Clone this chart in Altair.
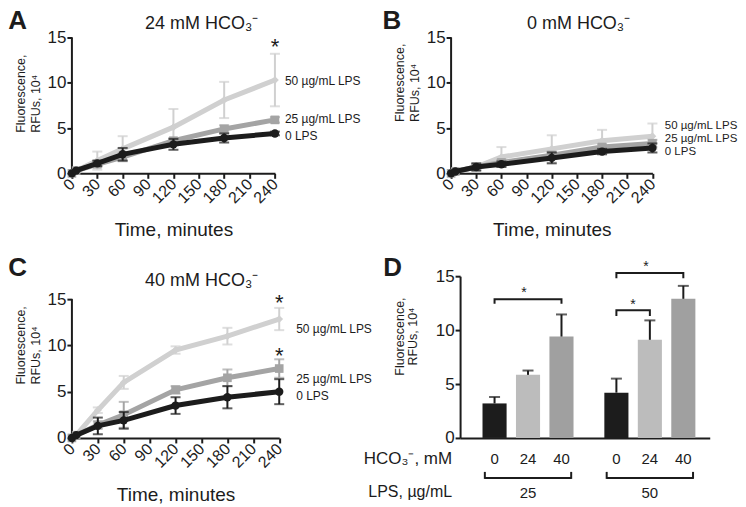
import altair as alt
import pandas as pd

FONT = "Liberation Sans"
BLACK = "#1c1c1c"
MID = "#a4a4a4"
LIGHT = "#d0d0d0"

# ---------------- data ----------------
TIMES = [0, 5, 30, 60, 120, 180, 240]
TIME_TICKS = [0, 30, 60, 90, 120, 150, 180, 210, 240]
Y_TICKS = [0, 5, 10, 15]
SERIES = ["50 µg/mL LPS", "25 µg/mL LPS", "0 LPS"]

# Panel A: 24 mM HCO3-
A_LPS50 = [0.0, 0.3, 1.4, 2.7, 5.1, 8.1, 10.3]
A_LPS50_ERR = [0, 0, 1.0, 1.4, 2.0, 2.0, 2.9]
A_LPS25 = [0.0, 0.3, 1.0, 1.8, 3.6, 4.9, 5.9]
A_LPS25_ERR = [0, 0, 0.3, 0.4, 0.3, 0.4, 0.3]
A_LPS0 = [0.0, 0.3, 1.1, 2.1, 3.2, 3.9, 4.4]
A_LPS0_ERR = [0, 0, 0.3, 0.7, 0.6, 0.5, 0.2]

# Panel B: 0 mM HCO3-
B_LPS50 = [0.0, 0.2, 0.7, 1.8, 2.7, 3.6, 4.1]
B_LPS50_ERR = [0, 0, 0.3, 1.1, 1.5, 1.2, 1.4]
B_LPS25 = [0.0, 0.2, 0.7, 1.2, 2.0, 2.9, 3.3]
B_LPS25_ERR = [0, 0, 0.3, 0.3, 0.4, 0.3, 0.4]
B_LPS0 = [0.0, 0.2, 0.7, 1.0, 1.7, 2.4, 2.8]
B_LPS0_ERR = [0, 0, 0.4, 0.3, 0.6, 0.3, 0.5]

# Panel C: 40 mM HCO3-
C_LPS50 = [0.0, 0.3, 3.0, 6.0, 9.5, 11.0, 12.85]
C_LPS50_ERR = [0, 0, 0.3, 0.7, 0.4, 0.9, 1.2]
C_LPS25 = [0.0, 0.3, 1.4, 2.5, 5.2, 6.5, 7.5]
C_LPS25_ERR = [0, 0, 0.4, 1.4, 0.4, 0.9, 1.0]
C_LPS0 = [0.0, 0.3, 1.3, 1.9, 3.5, 4.4, 5.0]
C_LPS0_ERR = [0, 0, 0.9, 0.9, 0.9, 1.2, 1.35]

# series label anchors (data units) and significance stars
A_LABEL_Y = [10.2, 6.0, 4.15]
B_LABEL_Y = [5.25, 3.8, 2.3]
C_LABEL_Y = [11.75, 6.4, 4.5]
A_STARS = [14.6]
C_STARS = [15.2, 9.5]

# Panel D
D_LPS = ["25", "50"]
D_HCO3 = ["0", "24", "40"]
D_LPS25_MEAN = [3.2, 5.85, 9.4]
D_LPS25_ERR = [0.6, 0.4, 2.05]
D_LPS50_MEAN = [4.2, 9.1, 12.9]
D_LPS50_ERR = [1.3, 1.8, 1.2]
D_BRACKETS = [("25", "0", "40", 12.85, 12.45),
              ("50", "0", "40", 15.3, 14.8),
              ("50", "0", "24", 11.83, 11.3)]

Y_TITLE = ["Fluorescence,", "RFUs, 10⁴"]


def time_panel(letter, letter_x, letter_y, title, title_x, title_y,
               means, errs, label_y, label_dx, label_size, stars,
               width, height, ymax, ytitle_y):
    xs = alt.Scale(domain=[0, 240], nice=False, zero=False)
    ys = alt.Scale(domain=[0, ymax], nice=False, zero=False)
    x_axis = alt.Axis(values=TIME_TICKS, labelAngle=315, labelAlign="right",
                      labelBaseline="middle", labelFontSize=16, labelPadding=3,
                      labelOverlap=False, labelFlush=False,
                      title="Time, minutes", titleFontSize=19, titlePadding=15,
                      titleFontWeight="normal")
    y_axis = alt.Axis(values=Y_TICKS, domain=False, labelFontSize=17,
                      labelPadding=1, labelOverlap=False, labelFlush=False,
                      title=Y_TITLE, titleFontSize=12.5,
                      titleFontWeight="normal", titleLineHeight=15,
                      titleAlign="left", titleY=ytitle_y, titlePadding=5)

    def X(f):
        return alt.X(f, type="quantitative", scale=xs, axis=x_axis)

    def Y(f):
        return alt.Y(f, type="quantitative", scale=ys, axis=y_axis)

    layers = []
    axis_df = pd.DataFrame({"t": [0], "lo": [0], "hi": [15]})
    layers.append(alt.Chart(axis_df).mark_rule(color=BLACK, strokeWidth=2)
                  .encode(x=X("t"), y=Y("lo"), y2="hi"))

    styles = [(LIGHT, "diamond", 60), (MID, "square", 75), (BLACK, "circle", 70)]
    for m, e, (col, shape, size) in zip(means, errs, styles):
        df = pd.DataFrame({"t": TIMES, "v": m, "e": e})
        df["lo"] = df["v"] - df["e"]
        df["hi"] = df["v"] + df["e"]
        dfe = df[df["e"] > 0]
        layers.append(alt.Chart(df).mark_line(color=col, strokeWidth=5)
                      .encode(x=X("t"), y=Y("v")))
        layers.append(alt.Chart(dfe).mark_rule(color=col, strokeWidth=2)
                      .encode(x=X("t"), y=Y("lo"), y2="hi"))
        layers.append(alt.Chart(dfe).mark_tick(color=col, orient="horizontal",
                                               size=10, thickness=2)
                      .encode(x=X("t"), y=Y("lo")))
        layers.append(alt.Chart(dfe).mark_tick(color=col, orient="horizontal",
                                               size=10, thickness=2)
                      .encode(x=X("t"), y=Y("hi")))
        layers.append(alt.Chart(df).mark_point(shape=shape, filled=True, size=size,
                                               color=col, opacity=1)
                      .encode(x=X("t"), y=Y("v")))

    lab_df = pd.DataFrame({"t": [240] * 3, "v": label_y, "txt": SERIES})
    layers.append(alt.Chart(lab_df).mark_text(align="left", baseline="middle",
                                              dx=label_dx, fontSize=label_size,
                                              font=FONT, color=BLACK)
                  .encode(x=X("t"), y=Y("v"), text="txt"))
    star_df = pd.DataFrame({"t": [240] * len(stars), "v": stars,
                            "txt": ["*"] * len(stars)})
    layers.append(alt.Chart(star_df).mark_text(align="center", baseline="middle",
                                               dy=6, fontSize=22, font=FONT,
                                               color=BLACK)
                  .encode(x=X("t"), y=Y("v"), text="txt"))
    t_df = pd.DataFrame({"txt": [title]})
    layers.append(alt.Chart(t_df).mark_text(align="left", baseline="alphabetic",
                                            fontSize=18, font=FONT, color=BLACK)
                  .encode(x=alt.value(title_x), y=alt.value(title_y), text="txt"))
    l_df = pd.DataFrame({"txt": [letter]})
    layers.append(alt.Chart(l_df).mark_text(align="left", baseline="alphabetic",
                                            fontSize=26, fontWeight="bold",
                                            font=FONT, color=BLACK)
                  .encode(x=alt.value(letter_x), y=alt.value(letter_y), text="txt"))
    return alt.layer(*layers).properties(width=width, height=height)


panel_a = time_panel("A", -63.7, -8.2, "24 mM HCO₃⁻", 73.3, -8.7,
                     [A_LPS50, A_LPS25, A_LPS0],
                     [A_LPS50_ERR, A_LPS25_ERR, A_LPS0_ERR],
                     A_LABEL_Y, 10, 12, A_STARS, 203.3, 136, 15, 95)
panel_b = time_panel("B", -68.7, -8.2, "0 mM HCO₃⁻", 76, -8.7,
                     [B_LPS50, B_LPS25, B_LPS0],
                     [B_LPS50_ERR, B_LPS25_ERR, B_LPS0_ERR],
                     B_LABEL_Y, 12.4, 11.5, [], 201.6, 136, 15, 84)
panel_c = time_panel("C", -63.7, 0, "40 mM HCO₃⁻", 73.3, 10,
                     [C_LPS50, C_LPS25, C_LPS0],
                     [C_LPS50_ERR, C_LPS25_ERR, C_LPS0_ERR],
                     C_LABEL_Y, 17, 12, C_STARS, 207.6, 162, 15 * 162 / 139, 108)

# ---------------- panel D ----------------
d_rows = []
for lps, means, errs in [("25", D_LPS25_MEAN, D_LPS25_ERR), ("50", D_LPS50_MEAN, D_LPS50_ERR)]:
    for h, m, e in zip(D_HCO3, means, errs):
        d_rows.append({"lps": lps, "hco3": h, "v": m, "hi": m + e})
d_df = pd.DataFrame(d_rows)

xs_d = alt.Scale(domain=D_LPS, paddingInner=0.176, paddingOuter=0.1125, align=0.647)
xo_d = alt.Scale(domain=D_HCO3, paddingInner=0.28, paddingOuter=0.14)
ys_d = alt.Scale(domain=[0, 15], nice=False)
x_axis_d = alt.Axis(labels=False, ticks=False, title=None)
y_axis_d = alt.Axis(values=Y_TICKS, labelFontSize=17, labelPadding=1, title=Y_TITLE,
                    labelOverlap=False, labelFlush=False,
                    titleFontSize=12.5, titleFontWeight="normal", titleLineHeight=12.5,
                    titleY=60, titlePadding=16)


def XD(**kw):
    return alt.X("lps:N", scale=xs_d, axis=x_axis_d, **kw)


def XO():
    return alt.XOffset("hco3:N", scale=xo_d, sort=D_HCO3)


def YD(f):
    return alt.Y(f, type="quantitative", scale=ys_d, axis=y_axis_d)


d_layers = []
d_layers.append(alt.Chart(d_df).mark_bar().encode(
    x=XD(), xOffset=XO(), y=YD("v"),
    color=alt.Color("hco3:N", scale=alt.Scale(domain=D_HCO3,
                                               range=[BLACK, "#bcbcbc", "#a0a0a0"]),
                    legend=None)))
d_layers.append(alt.Chart(d_df).mark_rule(color=BLACK, strokeWidth=2).encode(
    x=XD(), xOffset=XO(), y=YD("v"), y2="hi"))
d_layers.append(alt.Chart(d_df).mark_tick(color=BLACK, orient="horizontal", size=11,
                                          thickness=2).encode(
    x=XD(), xOffset=XO(), y=YD("hi")))

br_rows = []
for i, (lps, h0, h1, ytop, ylow) in enumerate(D_BRACKETS):
    br_rows += [
        {"id": i, "o": 0, "lps": lps, "hco3": h0, "v": ylow},
        {"id": i, "o": 1, "lps": lps, "hco3": h0, "v": ytop},
        {"id": i, "o": 2, "lps": lps, "hco3": h1, "v": ytop},
        {"id": i, "o": 3, "lps": lps, "hco3": h1, "v": ylow},
    ]
br_df = pd.DataFrame(br_rows)
d_layers.append(alt.Chart(br_df).mark_line(color=BLACK, strokeWidth=2).encode(
    x=XD(), xOffset=XO(), y=YD("v"), detail="id:N", order="o:Q"))

star_mid = pd.DataFrame({"lps": ["25", "50"], "hco3": ["24", "24"], "v": [13.8, 16.2],
                         "txt": ["*", "*"]})
d_layers.append(alt.Chart(star_mid).mark_text(fontSize=14, font=FONT, color=BLACK,
                                              baseline="middle", dx=-4, dy=4).encode(
    x=XD(), xOffset=XO(), y=YD("v"), text="txt"))
star_side = pd.DataFrame({"lps": ["50"], "hco3": ["0"], "v": [12.7], "txt": ["*"]})
d_layers.append(alt.Chart(star_side).mark_text(fontSize=14, font=FONT, color=BLACK,
                                               baseline="middle", dx=16.5, dy=4).encode(
    x=XD(), xOffset=XO(), y=YD("v"), text="txt"))

# category labels under the axis
d_layers.append(alt.Chart(d_df).mark_text(fontSize=15, font=FONT, color=BLACK,
                                          baseline="middle").encode(
    x=XD(), xOffset=XO(), y=alt.value(183), text="hco3:N"))
grp_df = pd.DataFrame({"lps": D_LPS})
d_layers.append(alt.Chart(grp_df).mark_text(fontSize=15, font=FONT, color=BLACK,
                                            baseline="middle").encode(
    x=XD(), y=alt.value(217), text="lps:N"))
d_layers.append(alt.Chart(grp_df).mark_bar(color=BLACK, width=alt.RelativeBandSize(0.86))
                .encode(x=XD(), y=alt.value(201), y2=alt.value(203)))
for bp in (0.07, 0.93):
    d_layers.append(alt.Chart(grp_df).mark_rule(color=BLACK, strokeWidth=2)
                    .encode(x=XD(bandPosition=bp), y=alt.value(196), y2=alt.value(203)))
row_df = pd.DataFrame({"txt": ["HCO₃⁻, mM", "LPS, µg/mL"]})
d_layers.append(alt.Chart(row_df.iloc[[0]]).mark_text(fontSize=17, font=FONT, color=BLACK,
                                                      align="right", baseline="middle")
                .encode(x=alt.value(-8), y=alt.value(183), text="txt"))
d_layers.append(alt.Chart(row_df.iloc[[1]]).mark_text(fontSize=16, font=FONT, color=BLACK,
                                                      align="right", baseline="middle")
                .encode(x=alt.value(-8), y=alt.value(216), text="txt"))
d_letter = pd.DataFrame({"txt": ["D"]})
d_layers.append(alt.Chart(d_letter).mark_text(align="left", baseline="alphabetic",
                                              fontSize=26, fontWeight="bold", font=FONT,
                                              color=BLACK)
                .encode(x=alt.value(-77), y=alt.value(0), text="txt"))

panel_d = alt.layer(*d_layers).properties(width=250, height=162)

top_row = alt.hconcat(panel_a, panel_b, spacing=175.7, bounds="flush")
bottom_row = alt.hconcat(panel_c, panel_d, spacing=180.7, bounds="flush")
chart = (alt.vconcat(top_row, bottom_row, spacing=15)
         .properties(padding={"left": 0, "top": -0.8, "right": 0, "bottom": 0})
         .configure_view(stroke=None)
         .configure_axis(domainColor=BLACK, domainWidth=2, tickColor=BLACK, tickWidth=2,
                         tickSize=5, labelColor=BLACK, titleColor=BLACK, labelFont=FONT,
                         titleFont=FONT, grid=False))

chart.save("out.html", embed_options={"renderer": "svg", "actions": False})
